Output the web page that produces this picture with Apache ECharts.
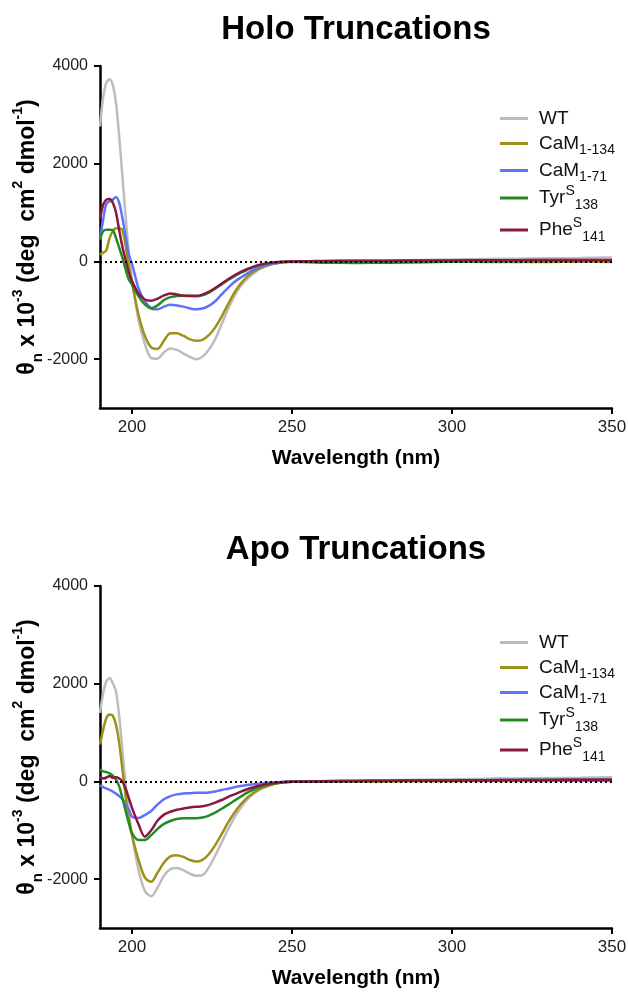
<!DOCTYPE html>
<html>
<head>
<meta charset="utf-8">
<script src="https://cdn.jsdelivr.net/npm/echarts@6/dist/echarts.min.js"></script>
<style>
  html, body { margin: 0; padding: 0; background: #fff; }
  #main { width: 628px; height: 993px; }
</style>
</head>
<body>
<div id="main"></div>
<script>
// wavelength (nm)
var wl = [190,191,192,193,194,195,196,197,198,199,200,
    202,204,206,208,210,212,214,216,218,220,222,224,226,228,230,232,234,236,238,240,242,244,246,248,250,
    255,260,270,280,290,300,310,320,330,340,350];

// Holo truncations
var holoWT = [2760,3370,3660,3730,3610,3240,2560,1740,925,180,-370,
    -1180,-1690,-1975,-1990,-1860,-1780,-1810,-1880,-1950,-2000,-1950,-1810,-1590,-1285,-980,-710,-500,-355,-245,-150,-95,-55,-27,-15,-8,
    0,5,15,20,30,40,50,55,65,70,80];
var holo134 = [140,180,230,480,620,680,680,640,320,-100,-435,
    -1080,-1520,-1760,-1790,-1620,-1470,-1470,-1520,-1590,-1625,-1605,-1510,-1350,-1130,-880,-640,-450,-310,-210,-140,-90,-50,-25,-12,-5,
    -5,-10,-10,-12,-10,-8,-10,-12,-10,-8,-10];
var holo71 = [450,860,1180,1230,1265,1320,1200,890,520,140,-50,
    -540,-810,-960,-980,-925,-885,-900,-925,-960,-980,-965,-910,-815,-675,-540,-420,-330,-250,-175,-115,-75,-45,-25,-12,-5,
    0,5,8,10,12,15,15,18,20,22,25];
var holoTyr = [450,620,650,650,640,480,280,75,-165,-370,-470,
    -710,-880,-960,-900,-790,-730,-710,-700,-710,-715,-695,-640,-560,-470,-380,-300,-230,-170,-115,-75,-45,-25,-12,-5,-10,
    -15,-25,-30,-25,-15,-5,0,5,10,12,15];
var holoPhe = [860,1160,1265,1280,1200,1000,640,300,30,-220,-400,
    -650,-780,-805,-760,-695,-655,-675,-700,-705,-705,-680,-625,-545,-455,-365,-285,-215,-155,-105,-65,-40,-20,-10,-5,0,
    5,10,15,15,20,20,25,25,30,30,30];

// Apo truncations
var apoWT = [1400,1810,2050,2115,2010,1840,1330,650,-50,-600,-1100,
    -1800,-2240,-2350,-2170,-1930,-1795,-1770,-1815,-1885,-1930,-1920,-1760,-1520,-1250,-980,-740,-540,-370,-250,-165,-110,-60,-30,-15,-5,
    0,10,20,25,35,45,55,60,70,75,85];
var apo134 = [755,1060,1300,1370,1345,1160,790,245,-300,-750,-1100,
    -1600,-1965,-2055,-1865,-1660,-1535,-1510,-1545,-1605,-1640,-1605,-1490,-1305,-1080,-845,-640,-470,-335,-230,-150,-100,-60,-30,-15,-5,
    -5,-5,0,0,5,5,10,10,10,15,15];
var apo71 = [-80,-115,-145,-175,-210,-250,-300,-365,-470,-570,-720,
    -750,-690,-605,-470,-365,-300,-265,-245,-240,-230,-230,-225,-205,-175,-150,-120,-95,-75,-60,-45,-30,-20,-10,-5,0,
    5,5,10,15,20,20,25,30,30,35,40];
var apoTyr = [245,205,190,165,120,35,-100,-340,-600,-850,-1060,
    -1200,-1200,-1100,-970,-870,-810,-770,-755,-755,-755,-740,-700,-640,-560,-480,-395,-310,-230,-165,-115,-75,-45,-25,-10,-5,
    -5,0,5,10,15,20,25,25,30,30,35];
var apoPhe = [95,60,80,110,75,85,60,0,-150,-340,-540,
    -870,-1130,-1000,-800,-680,-620,-580,-555,-535,-520,-510,-480,-435,-380,-320,-265,-210,-160,-120,-85,-55,-35,-20,-10,-5,
    0,5,10,15,20,20,25,30,30,35,35];

var names = ['WT', 'CaM1-134', 'CaM1-71', 'TyrS138', 'PheS141'];
var colors = ['#bdbdbd', '#9d9116', '#5f73f7', '#238b23', '#8b1843'];
var yTicks = [-2000, 0, 2000, 4000];
var xTicks = [200, 250, 300, 350];

var legendText = {
    'WT': '{a|WT}',
    'CaM1-134': '{a|CaM}{sub|1-134}',
    'CaM1-71': '{a|CaM}{sub|1-71}',
    'TyrS138': '{a|Tyr}{sup|S}{sub|138}',
    'PheS141': '{a|Phe}{sup|S}{sub|141}'
};

var font = 'Liberation Sans, Arial, Helvetica, sans-serif';

function pairs(arr) {
    var out = [];
    for (var i = 0; i < wl.length; i++) {
        out.push([wl[i], arr[i]]);
    }
    return out;
}

function makeX(idx) {
    return {
        type: 'value', gridIndex: idx, min: 190, max: 350,
        name: 'Wavelength (nm)', nameLocation: 'middle', nameGap: 40, nameMoveOverlap: false,
        nameTextStyle: {fontFamily: font, fontWeight: 'bold', fontSize: 21, color: '#000'},
        axisLine: {onZero: false, lineStyle: {color: '#000', width: 2.5}},
        axisTick: {show: true, length: 6, lineStyle: {width: 2, color: '#000'}, customValues: xTicks},
        axisLabel: {fontFamily: font, fontSize: 17, color: '#222', margin: 11, customValues: xTicks},
        splitLine: {show: false}
    };
}

function makeY(idx) {
    return {
        type: 'value', gridIndex: idx, min: -3000, max: 4000,
        name: '{a|θ}{sub|n}{a| x 10}{sup|-3}{a| (deg  cm}{sup|2}{a| dmol}{sup|-1}{a|)}',
        nameLocation: 'middle', nameRotate: 90, nameGap: 55, nameMoveOverlap: false,
        nameTextStyle: {
            rich: {
                a: {fontFamily: font, fontWeight: 'bold', fontSize: 23, color: '#000', lineHeight: 34},
                sup: {fontFamily: font, fontWeight: 'bold', fontSize: 14, color: '#000', verticalAlign: 'top'},
                sub: {fontFamily: font, fontWeight: 'bold', fontSize: 15, color: '#000', verticalAlign: 'bottom'}
            }
        },
        axisLine: {show: true, onZero: false, lineStyle: {color: '#000', width: 2.5}},
        axisTick: {show: true, length: 6, lineStyle: {width: 2, color: '#000'}, customValues: yTicks},
        axisLabel: {fontFamily: font, fontSize: 16, color: '#222', margin: 12, customValues: yTicks,
            formatter: function (v) { return String(v); }},
        splitLine: {show: false}
    };
}

// one legend per row so that row spacing follows the picture
var rowsHolo = [118, 143, 170, 193, 225];
var rowsApo = [642, 667, 692, 715, 745];

function makeLegend(name, y) {
    return {
        orient: 'vertical', left: 495, top: y - 14, itemGap: 0,
        icon: 'rect', itemWidth: 28, itemHeight: 3,
        data: [name],
        formatter: function (n) { return legendText[n]; },
        textStyle: {
            padding: [0, 0, 0, 6],
            rich: {
                a: {fontFamily: font, fontSize: 19, color: '#111', lineHeight: 28},
                sup: {fontFamily: font, fontSize: 14, color: '#111', verticalAlign: 'top'},
                sub: {fontFamily: font, fontSize: 14, color: '#111', verticalAlign: 'bottom'}
            }
        }
    };
}

var legends = [];
names.forEach(function (n, i) {
    legends.push(makeLegend(n, rowsHolo[i]));
    legends.push(makeLegend(n, rowsApo[i]));
});

var holo = [holoWT, holo134, holo71, holoTyr, holoPhe];
var apo = [apoWT, apo134, apo71, apoTyr, apoPhe];

var series = [];
[holo, apo].forEach(function (set, g) {
    set.forEach(function (arr, i) {
        var s = {
            name: names[i], type: 'line', xAxisIndex: g, yAxisIndex: g,
            data: pairs(arr), smooth: 0.3, symbol: 'none',
            lineStyle: {color: colors[i], width: 2.5},
            itemStyle: {color: colors[i]},
            animation: false
        };
        if (i === 0) {
            s.markLine = {
                silent: true, symbol: 'none', label: {show: false},
                lineStyle: {color: '#000', type: [2, 3], width: 2},
                data: [{yAxis: 0}]
            };
        }
        series.push(s);
    });
});

var myChart = echarts.init(document.getElementById('main'));
myChart.setOption({
    backgroundColor: '#fff',
    animation: false,
    title: [
        {text: 'Holo Truncations', left: 351, top: 8, textAlign: 'center',
            textStyle: {fontFamily: font, fontWeight: 'bold', fontSize: 33, color: '#000'}},
        {text: 'Apo Truncations', left: 351, top: 528, textAlign: 'center',
            textStyle: {fontFamily: font, fontWeight: 'bold', fontSize: 33, color: '#000'}}
    ],
    legend: legends,
    grid: [
        {left: 100, top: 66, width: 512, height: 342, outerBoundsMode: 'none'},
        {left: 100, top: 586, width: 512, height: 342, outerBoundsMode: 'none'}
    ],
    xAxis: [makeX(0), makeX(1)],
    yAxis: [makeY(0), makeY(1)],
    series: series
});
</script>
</body>
</html>
